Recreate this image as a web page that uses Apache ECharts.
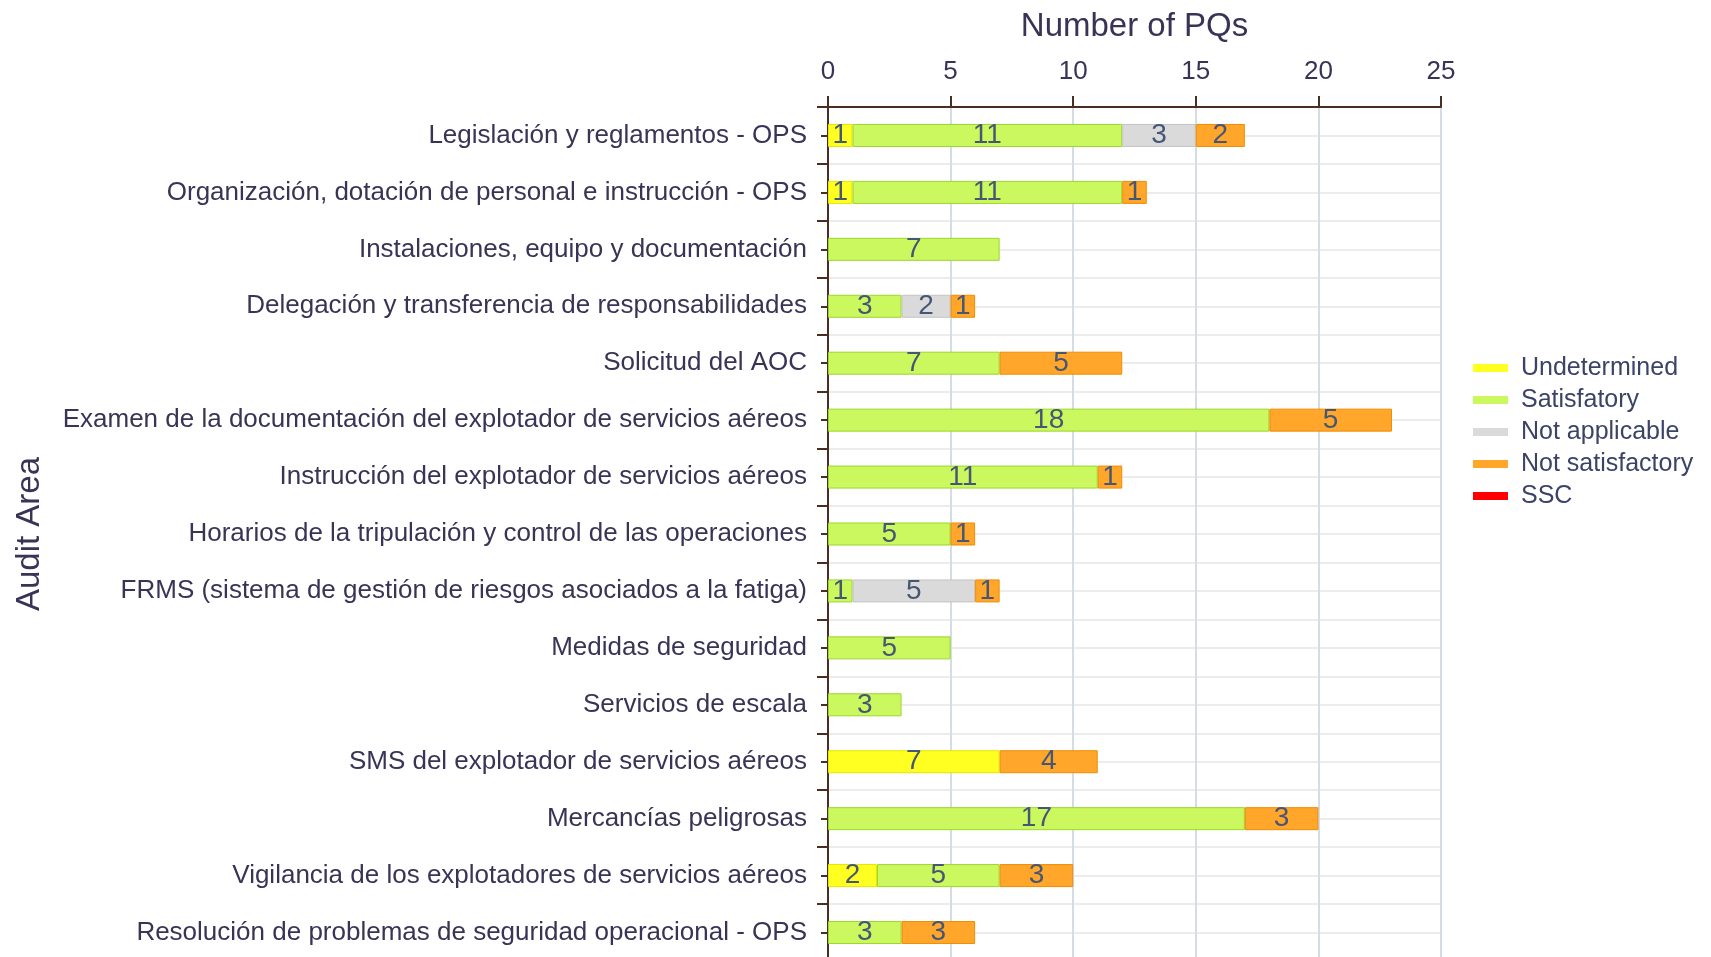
<!DOCTYPE html>
<html>
<head>
<meta charset="utf-8">
<script src="https://cdn.jsdelivr.net/npm/echarts@6.0.0/dist/echarts.min.js"></script>
<style>
  html, body { margin: 0; padding: 0; background: #fff; }
  #chart { width: 1711px; height: 957px; }
</style>
</head>
<body>
<div id="chart"></div>
<script>
const categories = [
  'Legislación y reglamentos - OPS',
  'Organización, dotación de personal e instrucción - OPS',
  'Instalaciones, equipo y documentación',
  'Delegación y transferencia de responsabilidades',
  'Solicitud del AOC',
  'Examen de la documentación del explotador de servicios aéreos',
  'Instrucción del explotador de servicios aéreos',
  'Horarios de la tripulación y control de las operaciones',
  'FRMS (sistema de gestión de riesgos asociados a la fatiga)',
  'Medidas de seguridad',
  'Servicios de escala',
  'SMS del explotador de servicios aéreos',
  'Mercancías peligrosas',
  'Vigilancia de los explotadores de servicios aéreos',
  'Resolución de problemas de seguridad operacional - OPS'
];

const undetermined    = [1, 1, 0, 0, 0, 0, 0, 0, 0, 0, 0, 7, 0, 2, 0];
const satisfactory    = [11, 11, 7, 3, 7, 18, 11, 5, 1, 5, 3, 0, 17, 5, 3];
const notApplicable   = [3, 0, 0, 2, 0, 0, 0, 0, 5, 0, 0, 0, 0, 0, 0];
const notSatisfactory = [2, 1, 0, 1, 5, 5, 1, 1, 1, 0, 0, 4, 3, 3, 3];
const ssc             = [0, 0, 0, 0, 0, 0, 0, 0, 0, 0, 0, 0, 0, 0, 0];

const xTicks = { min: 0, max: 25, interval: 5 };

const FONT = "'Liberation Sans', Arial, sans-serif";
const TEXT = '#3a3356';
const AXIS = '#4b2e22';

const seriesDefs = [
  { name: 'Undetermined', data: undetermined, color: '#ffff22', border: '#e5e500' },
  { name: 'Satisfatory', data: satisfactory, color: '#ccf85f', border: '#9bd62c' },
  { name: 'Not applicable', data: notApplicable, color: '#dadada', border: '#c4c4c4' },
  { name: 'Not satisfactory', data: notSatisfactory, color: '#ffa62b', border: '#f08c00' },
  { name: 'SSC', data: ssc, color: '#ff0000', border: '#dd0000' }
];

const chart = echarts.init(document.getElementById('chart'), null, { renderer: 'canvas' });

const bars = seriesDefs.map((s) => ({
  name: s.name,
  type: 'bar',
  stack: 'total',
  yAxisIndex: 0,
  barWidth: 23,
  itemStyle: { color: s.color, borderColor: s.border, borderWidth: 1 },
  label: {
    show: true,
    position: 'inside',
    fontFamily: FONT,
    fontSize: 28,
    color: '#465775',
    formatter: (p) => (p.value > 0 ? p.value : '')
  },
  data: s.data.map((v) => (v > 0 ? v : '-'))
}));

chart.setOption({
  backgroundColor: '#fff',
  animation: false,
  textStyle: { fontFamily: FONT },
  grid: { left: 828, top: 107, width: 613, height: 854, containLabel: false, outerBoundsMode: 'none' },
  legend: {
    orient: 'vertical',
    left: 1468,
    top: 348,
    icon: 'rect',
    itemWidth: 35,
    itemHeight: 8,
    itemGap: 2,
    itemStyle: { borderWidth: 0 },
    data: seriesDefs.map((s) => s.name),
    textStyle: { fontFamily: FONT, fontSize: 25, color: '#3b4466', lineHeight: 30, padding: [0, 0, 0, 8] }
  },
  xAxis: {
    type: 'value',
    position: 'top',
    min: xTicks.min,
    max: xTicks.max,
    interval: xTicks.interval,
    name: 'Number of PQs',
    nameLocation: 'middle',
    nameGap: 64,
    nameTextStyle: { fontFamily: FONT, fontSize: 33, color: TEXT },
    axisLine: { show: true, lineStyle: { color: AXIS, width: 2 } },
    axisTick: { show: true, length: 11, lineStyle: { color: AXIS, width: 2 } },
    axisLabel: { fontFamily: FONT, fontSize: 26, color: TEXT, margin: 22 },
    splitLine: { show: true, lineStyle: { color: '#d3dde8', width: 2 } }
  },
  yAxis: [
    {
      type: 'category',
      data: categories,
      inverse: true,
      position: 'left',
      name: 'Audit Area',
      nameLocation: 'middle',
      nameGap: 782,
      nameRotate: 90,
      nameTextStyle: { fontFamily: FONT, fontSize: 33, color: TEXT },
      axisLine: { show: true, lineStyle: { color: AXIS, width: 2 } },
      axisTick: { show: true, alignWithLabel: true, length: 7, lineStyle: { color: AXIS, width: 2 } },
      axisLabel: { fontFamily: FONT, fontSize: 26, color: TEXT, margin: 21 },
      splitLine: { show: false }
    },
    {
      // boundary ticks between categories
      type: 'category',
      data: categories,
      inverse: true,
      position: 'left',
      offset: 0,
      axisLine: { show: false },
      axisTick: { show: true, alignWithLabel: false, length: 11, lineStyle: { color: AXIS, width: 2 } },
      axisLabel: { show: false },
      splitLine: { show: false }
    },
    {
      // faint horizontal rules at every half band (centres and boundaries)
      type: 'value',
      inverse: true,
      position: 'left',
      min: 0,
      max: categories.length,
      interval: 0.5,
      axisLine: { show: false },
      axisTick: { show: false },
      axisLabel: { show: false },
      splitLine: { show: true, lineStyle: { color: '#ececec', width: 2 } }
    }
  ],
  series: bars
});
</script>
</body>
</html>
